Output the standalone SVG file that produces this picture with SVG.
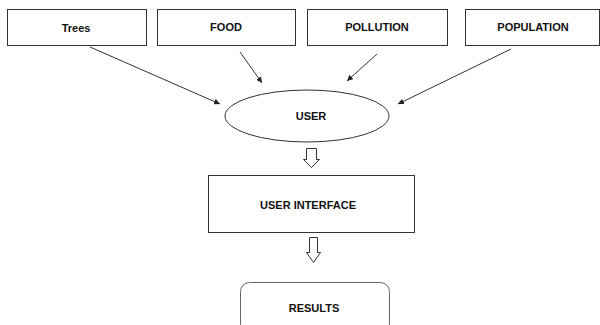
<svg xmlns="http://www.w3.org/2000/svg" width="600" height="325" viewBox="0 0 600 325">
<style>
.box{fill:#fff;stroke:#333;stroke-width:1}
.lbl{font-family:"Liberation Sans",Arial,sans-serif;font-weight:bold;font-size:11px;fill:#111;text-anchor:middle;dominant-baseline:central}
.con{stroke:#333;stroke-width:1;fill:none;marker-end:url(#ah)}
.hollow{fill:#fff;stroke:#333;stroke-width:1}
</style>
<defs>
<marker id="ah" viewBox="0 0 10 10" refX="10" refY="5" markerWidth="6" markerHeight="6" markerUnits="userSpaceOnUse" orient="auto">
<path d="M0,0 L10,5 L0,10 z" fill="#222"/>
</marker>
</defs>
<rect width="600" height="325" fill="#fff"/>
<g id="trees"><rect class="box" x="7.5" y="9.5" width="139" height="36"/><text class="lbl" x="76" y="28">Trees</text></g>
<g id="food"><rect class="box" x="157.5" y="9.5" width="138" height="36"/><text class="lbl" x="226" y="27">FOOD</text></g>
<g id="pollution"><rect class="box" x="307.5" y="9.5" width="140" height="36"/><text class="lbl" x="377" y="27">POLLUTION</text></g>
<g id="population"><rect class="box" x="465.5" y="9.5" width="134" height="36"/><text class="lbl" x="533" y="27">POPULATION</text></g>
<g id="user"><ellipse class="box" cx="307" cy="116" rx="82" ry="26"/><text class="lbl" x="311" y="116">USER</text></g>
<g id="user-interface"><rect class="box" x="208.5" y="175.5" width="206" height="57"/><text class="lbl" x="308" y="205">USER INTERFACE</text></g>
<g id="results"><rect x="240.5" y="282.5" width="149" height="50" rx="9" fill="#fff" stroke="#666" stroke-width="1"/><text class="lbl" x="314" y="308">RESULTS</text></g>
<g id="connectors">
<line class="con" x1="90" y1="47" x2="220" y2="104"/>
<line class="con" x1="240" y1="52" x2="262" y2="83"/>
<line class="con" x1="377" y1="54" x2="347" y2="81"/>
<line class="con" x1="511" y1="49" x2="398" y2="104"/>
<path class="hollow" d="M306.5,148.5 H316.5 V159.5 H319.5 L311.5,167.5 L303.5,159.5 H306.5 Z"/>
<path class="hollow" d="M309.5,237.5 H317.5 V252.5 H320.5 L313.5,262.5 L306.5,252.5 H309.5 Z"/>
</g>
</svg>
